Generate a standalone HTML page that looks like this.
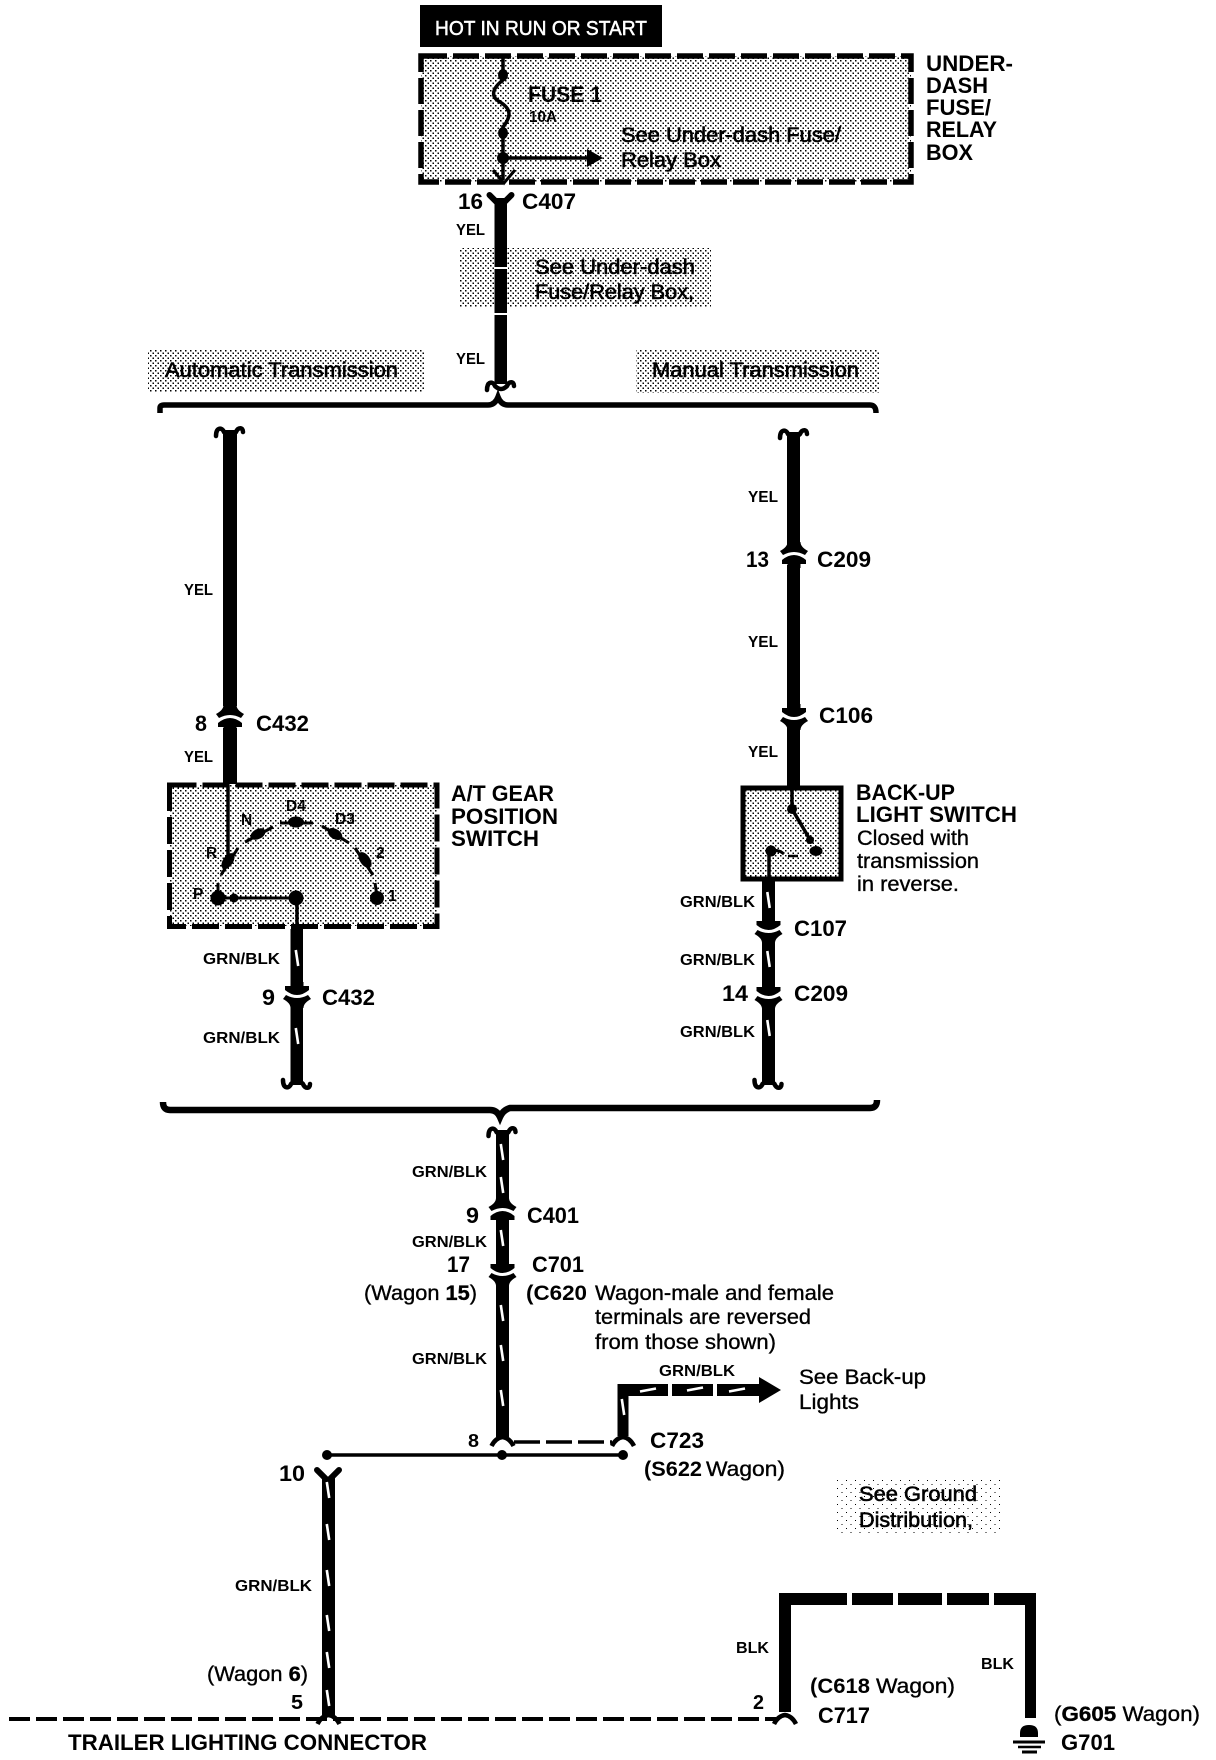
<!DOCTYPE html>
<html>
<head>
<meta charset="utf-8">
<title>Wiring diagram</title>
<style>
html,body{margin:0;padding:0;background:#fff}
svg{display:block}
text{font-family:"Liberation Sans",Arial,sans-serif;fill:#000}
.b{font-weight:bold;font-size:22px}
.s{font-weight:bold;font-size:15.5px}
.r{font-size:21px;stroke:#000;stroke-width:.35}
.n{font-size:21px;stroke:#000;stroke-width:.6}
tspan.k{font-weight:bold}
</style>
</head>
<body>
<svg width="1216" height="1760" viewBox="0 0 1216 1760" xmlns="http://www.w3.org/2000/svg">
<defs>
<pattern id="dot" width="5" height="5" patternUnits="userSpaceOnUse">
<rect width="5" height="5" fill="#fff"/>
<rect x="0" y="0" width="1.5" height="1.5" fill="#000" shape-rendering="crispEdges"/>
<rect x="2.5" y="2.5" width="1.5" height="1.5" fill="#000" shape-rendering="crispEdges"/>
</pattern>
<pattern id="dot2" width="9" height="8" patternUnits="userSpaceOnUse">
<rect width="9" height="8" fill="#fff"/>
<rect x="0" y="0" width="1.2" height="1.2" fill="#000" shape-rendering="crispEdges"/>
<rect x="4.5" y="4" width="1.2" height="1.2" fill="#000" shape-rendering="crispEdges"/>
</pattern>
<g id="slash"><path d="M-1.2 -8 L1.2 8" stroke="#fff" stroke-width="2.6" fill="none"/></g>
<g id="slashH"><path d="M-8 1.5 L8 -1.5" stroke="#fff" stroke-width="2.6" fill="none"/></g>
<g id="arcs">
<path d="M-6.5 -14 Q-6.5 -9 -14 -5 L-11 -1 Q0 -7 11 -1 L14 -5 Q6.5 -9 6.5 -14 Z"/>
<path d="M-12 4 Q0 -6 12 4 L12 8 H6.5 V12 H-6.5 V8 H-12 Z"/>
</g>
<g id="squig" fill="none" stroke="#000" stroke-width="4.5" stroke-linecap="round">
<path d="M-14 6 C-14 -3 -8 -3 -6 2 Q0 8 6 2 C8 -3 13 -3 13 2"/>
</g>
<g id="vee" fill="none" stroke="#000" stroke-width="6" stroke-linecap="round">
<path d="M-11 -8 L0 3 L11 -8"/>
</g>
<g id="flare" fill="none" stroke="#000" stroke-width="4.5">
<path d="M-11 6 Q-7 -2 0 -3 Q7 -2 11 6"/>
</g>
</defs>

<!-- top black label -->
<rect x="420" y="5" width="242" height="42" fill="#000"/>
<text style="stroke:#fff;stroke-width:.5;fill:#fff;font-size:20px" x="435" y="35" textLength="212" lengthAdjust="spacingAndGlyphs">HOT IN RUN OR START</text>

<!-- under-dash box -->
<rect x="421" y="56" width="490" height="126" fill="url(#dot)"/>
<rect x="421" y="56" width="490" height="126" fill="none" stroke="#000" stroke-width="5.5" stroke-dasharray="26 6"/>
<path d="M503 56 V80 C490 90 492 98 500 102 C513 110 510 118 503 127 V180" fill="none" stroke="#000" stroke-width="3.5"/>
<ellipse cx="503" cy="75" rx="5" ry="6"/>
<ellipse cx="503" cy="133" rx="5" ry="6"/>
<ellipse cx="503" cy="158" rx="6" ry="6"/>
<path d="M503 158 H590" stroke="#000" stroke-width="3.5"/>
<path d="M587 149 L603 158 L587 167 Z"/>
<path d="M493 170 L504 183 L515 170" fill="none" stroke="#000" stroke-width="3"/>
<text class="b" x="528" y="102" textLength="74" lengthAdjust="spacingAndGlyphs">FUSE 1</text>
<text class="s" x="529" y="122" textLength="28" lengthAdjust="spacingAndGlyphs">10A</text>
<text class="n" x="621" y="142" textLength="220" lengthAdjust="spacingAndGlyphs">See Under-dash Fuse/</text>
<text class="n" x="621" y="167" textLength="100" lengthAdjust="spacingAndGlyphs">Relay Box</text>
<text class="b" x="926" y="71" textLength="87" lengthAdjust="spacingAndGlyphs">UNDER-</text>
<text class="b" x="926" y="93" textLength="62" lengthAdjust="spacingAndGlyphs">DASH</text>
<text class="b" x="926" y="115" textLength="65" lengthAdjust="spacingAndGlyphs">FUSE/</text>
<text class="b" x="926" y="137" textLength="71" lengthAdjust="spacingAndGlyphs">RELAY</text>
<text class="b" x="926" y="160" textLength="47" lengthAdjust="spacingAndGlyphs">BOX</text>

<!-- shaded notes -->
<rect x="460" y="248" width="251" height="59" fill="url(#dot)"/>
<rect x="148" y="349" width="276" height="43" fill="url(#dot)"/>
<rect x="636" y="349" width="244" height="44" fill="url(#dot)"/>
<rect x="836" y="1480" width="165" height="56" fill="url(#dot2)"/>

<!-- top centre wire -->
<rect x="494.5" y="198" width="12.5" height="186"/>
<use href="#vee" x="500.5" y="203"/>
<rect x="494" y="267" width="14" height="2" fill="#fff"/>
<rect x="494" y="313" width="14" height="2" fill="#fff"/>
<use href="#squig" x="501" y="384"/>
<text class="b" x="458" y="209" textLength="25" lengthAdjust="spacingAndGlyphs">16</text>
<text class="b" x="522" y="209" textLength="54" lengthAdjust="spacingAndGlyphs">C407</text>
<text class="s" x="456" y="235" textLength="29" lengthAdjust="spacingAndGlyphs">YEL</text>
<text class="s" x="456" y="364" textLength="29" lengthAdjust="spacingAndGlyphs">YEL</text>
<text class="n" x="535" y="274" textLength="160" lengthAdjust="spacingAndGlyphs">See Under-dash</text>
<text class="n" x="535" y="299" textLength="159" lengthAdjust="spacingAndGlyphs">Fuse/Relay Box,</text>
<text class="n" x="165" y="377" textLength="233" lengthAdjust="spacingAndGlyphs">Automatic Transmission</text>
<text class="n" x="652" y="377" textLength="207" lengthAdjust="spacingAndGlyphs">Manual Transmission</text>

<!-- top bracket -->
<path d="M160 413 V408 Q160 405 164 405 H488 Q495 405 498 397 Q501 405 508 405 H870 Q876 405 876 413" fill="none" stroke="#000" stroke-width="5.5"/>

<!-- left yellow wire -->
<rect x="223" y="430" width="14" height="276"/>
<use href="#squig" x="230" y="430"/>
<use href="#arcs" x="230" y="719"/>
<rect x="223" y="728" width="14" height="56"/>
<text class="s" x="184" y="595" textLength="29" lengthAdjust="spacingAndGlyphs">YEL</text>
<text class="b" x="195" y="731" textLength="12" lengthAdjust="spacingAndGlyphs">8</text>
<text class="b" x="256" y="731" textLength="53" lengthAdjust="spacingAndGlyphs">C432</text>
<text class="s" x="184" y="762" textLength="29" lengthAdjust="spacingAndGlyphs">YEL</text>

<!-- A/T gear box -->
<rect x="170" y="785" width="267" height="141" fill="url(#dot)"/>
<rect x="169.5" y="785" width="267.5" height="141.5" fill="none" stroke="#000" stroke-width="5" stroke-dasharray="27 6"/>
<path d="M228 785 V857" stroke="#000" stroke-width="3.5"/>
<g stroke="#000" stroke-width="3" fill="none">
<path d="M221 875 L238 848"/>
<path d="M245 842 L273 827"/>
<path d="M280 823 L313 823"/>
<path d="M322 826 L349 843"/>
<path d="M355 848 L373 875"/>
<path d="M375 883 L377 896"/>
<path d="M218 883 V896"/>
<path d="M218 898 H296"/>
<path d="M297 898 V930" stroke-width="3.5"/>
</g>
<ellipse cx="228" cy="861" rx="5" ry="9" transform="rotate(35 228 861)"/>
<ellipse cx="258" cy="834" rx="8" ry="5" transform="rotate(-28 258 834)"/>
<ellipse cx="296" cy="822" rx="8" ry="5.5"/>
<ellipse cx="335" cy="834" rx="8" ry="5" transform="rotate(32 335 834)"/>
<ellipse cx="365" cy="860" rx="5" ry="9" transform="rotate(-35 365 860)"/>
<circle cx="377" cy="898" r="7"/>
<circle cx="218" cy="898" r="7.5"/>
<circle cx="234" cy="898" r="4.5"/>
<circle cx="296" cy="898" r="7.5"/>
<text class="s" x="241" y="825">N</text>
<text class="s" x="286" y="811">D4</text>
<text class="s" x="335" y="824">D3</text>
<text class="s" x="206" y="858">R</text>
<text class="s" x="376" y="858">2</text>
<text class="s" x="193" y="899">P</text>
<text class="s" x="388" y="901">1</text>
<text class="b" x="451" y="801" textLength="103" lengthAdjust="spacingAndGlyphs">A/T GEAR</text>
<text class="b" x="451" y="824" textLength="107" lengthAdjust="spacingAndGlyphs">POSITION</text>
<text class="b" x="451" y="846" textLength="88" lengthAdjust="spacingAndGlyphs">SWITCH</text>

<!-- left green wire -->
<rect x="290.5" y="929" width="12.5" height="60"/>
<g transform="translate(297 994) scale(1 -1)"><use href="#arcs"/></g>
<rect x="290.5" y="1004" width="12.5" height="81"/>
<use href="#slash" x="297" y="958"/>
<use href="#slash" x="297" y="1036"/>
<g transform="translate(297 1086) scale(1 -1)"><use href="#squig"/></g>
<text class="s" x="203" y="964" textLength="77" lengthAdjust="spacingAndGlyphs">GRN/BLK</text>
<text class="b" x="262" y="1005" textLength="13" lengthAdjust="spacingAndGlyphs">9</text>
<text class="b" x="322" y="1005" textLength="53" lengthAdjust="spacingAndGlyphs">C432</text>
<text class="s" x="203" y="1043" textLength="77" lengthAdjust="spacingAndGlyphs">GRN/BLK</text>

<!-- right yellow wire -->
<rect x="787" y="432" width="13" height="116"/>
<use href="#squig" x="794" y="432"/>
<use href="#arcs" x="794" y="556"/>
<rect x="787" y="565" width="13" height="145"/>
<g transform="translate(794 716) scale(1 -1)"><use href="#arcs"/></g>
<rect x="787" y="726" width="13" height="61"/>
<text class="s" x="748" y="502" textLength="30" lengthAdjust="spacingAndGlyphs">YEL</text>
<text class="b" x="746" y="567" textLength="23" lengthAdjust="spacingAndGlyphs">13</text>
<text class="b" x="817" y="567" textLength="54" lengthAdjust="spacingAndGlyphs">C209</text>
<text class="s" x="748" y="647" textLength="30" lengthAdjust="spacingAndGlyphs">YEL</text>
<text class="b" x="819" y="723" textLength="54" lengthAdjust="spacingAndGlyphs">C106</text>
<text class="s" x="748" y="757" textLength="30" lengthAdjust="spacingAndGlyphs">YEL</text>

<!-- back-up switch -->
<rect x="743" y="788" width="98" height="91" fill="url(#dot)"/>
<rect x="743" y="788" width="98" height="91" fill="none" stroke="#000" stroke-width="5"/>
<path d="M792 787 V809 L812 843" fill="none" stroke="#000" stroke-width="3.5"/>
<circle cx="792" cy="809" r="5"/>
<circle cx="810" cy="840" r="4"/>
<ellipse cx="816" cy="851" rx="6.5" ry="5"/>
<path d="M788 856 H798" stroke="#000" stroke-width="2.5"/>
<circle cx="771" cy="851" r="5.5"/>
<path d="M771 851 Q778 849 784 854" fill="none" stroke="#000" stroke-width="3"/>
<path d="M769 851 V882" stroke="#000" stroke-width="3.5"/>
<text class="b" x="856" y="800" textLength="99" lengthAdjust="spacingAndGlyphs">BACK-UP</text>
<text class="b" x="856" y="822" textLength="161" lengthAdjust="spacingAndGlyphs">LIGHT SWITCH</text>
<text class="r" x="857" y="845" textLength="112" lengthAdjust="spacingAndGlyphs">Closed with</text>
<text class="r" x="857" y="868" textLength="122" lengthAdjust="spacingAndGlyphs">transmission</text>
<text class="r" x="857" y="891" textLength="102" lengthAdjust="spacingAndGlyphs">in reverse.</text>

<!-- right green wire -->
<rect x="762" y="881" width="13" height="39"/>
<g transform="translate(768.5 929) scale(1 -1)"><use href="#arcs"/></g>
<rect x="762" y="939" width="13" height="48"/>
<g transform="translate(768.5 995) scale(1 -1)"><use href="#arcs"/></g>
<rect x="762" y="1005" width="13" height="80"/>
<use href="#slash" x="768.5" y="900"/>
<use href="#slash" x="768.5" y="959"/>
<use href="#slash" x="768.5" y="1028"/>
<g transform="translate(768.5 1086) scale(1 -1)"><use href="#squig"/></g>
<text class="s" x="680" y="907" textLength="75" lengthAdjust="spacingAndGlyphs">GRN/BLK</text>
<text class="b" x="794" y="936" textLength="53" lengthAdjust="spacingAndGlyphs">C107</text>
<text class="s" x="680" y="965" textLength="75" lengthAdjust="spacingAndGlyphs">GRN/BLK</text>
<text class="b" x="722" y="1001" textLength="26" lengthAdjust="spacingAndGlyphs">14</text>
<text class="b" x="794" y="1001" textLength="54" lengthAdjust="spacingAndGlyphs">C209</text>
<text class="s" x="680" y="1037" textLength="75" lengthAdjust="spacingAndGlyphs">GRN/BLK</text>

<!-- lower bracket -->
<path d="M163 1102 Q163 1110 170 1110 H490 Q497 1110 500 1117 Q503 1110 510 1108 H870 Q877 1108 877 1100" fill="none" stroke="#000" stroke-width="6.5"/>

<!-- centre lower wire -->
<rect x="496" y="1130" width="13" height="74"/>
<use href="#squig" x="502.5" y="1130"/>
<use href="#arcs" x="502.5" y="1212"/>
<rect x="496" y="1222" width="13" height="44"/>
<g transform="translate(502.5 1272) scale(1 -1)"><use href="#arcs"/></g>
<rect x="496" y="1282" width="13" height="155"/>
<use href="#flare" x="502.5" y="1440"/>
<use href="#slash" x="502" y="1152"/>
<use href="#slash" x="502" y="1185"/>
<use href="#slash" x="502" y="1238"/>
<use href="#slash" x="502" y="1313"/>
<use href="#slash" x="502" y="1353"/>
<use href="#slash" x="502" y="1398"/>
<text class="s" x="412" y="1177" textLength="75" lengthAdjust="spacingAndGlyphs">GRN/BLK</text>
<text class="b" x="466" y="1223" textLength="13" lengthAdjust="spacingAndGlyphs">9</text>
<text class="b" x="527" y="1223" textLength="52" lengthAdjust="spacingAndGlyphs">C401</text>
<text class="s" x="412" y="1247" textLength="75" lengthAdjust="spacingAndGlyphs">GRN/BLK</text>
<text class="b" x="447" y="1272" textLength="23" lengthAdjust="spacingAndGlyphs">17</text>
<text class="b" x="532" y="1272" textLength="52" lengthAdjust="spacingAndGlyphs">C701</text>
<text class="r" x="364" y="1300" textLength="113" lengthAdjust="spacingAndGlyphs">(Wagon <tspan class="k">15</tspan>)</text>
<text class="b" style="font-size:21px" x="526" y="1300" textLength="61" lengthAdjust="spacingAndGlyphs">(C620</text>
<text class="r" x="595" y="1300" textLength="239" lengthAdjust="spacingAndGlyphs">Wagon-male and female</text>
<text class="r" x="595" y="1324" textLength="216" lengthAdjust="spacingAndGlyphs">terminals are reversed</text>
<text class="r" x="595" y="1349" textLength="181" lengthAdjust="spacingAndGlyphs">from those shown)</text>
<text class="s" x="412" y="1364" textLength="75" lengthAdjust="spacingAndGlyphs">GRN/BLK</text>

<!-- branch to back-up lights -->
<text class="s" x="659" y="1376" textLength="76" lengthAdjust="spacingAndGlyphs">GRN/BLK</text>
<path d="M617.5 1384 H759 V1377 L781 1390 L759 1403 V1396 H628.5 V1436 H617.5 Z"/>
<rect x="668" y="1383" width="4" height="14" fill="#fff"/>
<rect x="713" y="1383" width="4" height="14" fill="#fff"/>
<use href="#slashH" x="648" y="1390"/>
<use href="#slashH" x="695" y="1389"/>
<use href="#slashH" x="737" y="1390"/>
<use href="#slash" x="623" y="1407"/>
<use href="#flare" x="623" y="1440"/>
<text class="r" x="799" y="1384" textLength="127" lengthAdjust="spacingAndGlyphs">See Back-up</text>
<text class="r" x="799" y="1409" textLength="60" lengthAdjust="spacingAndGlyphs">Lights</text>

<!-- horizontal splice -->
<path d="M514 1442 H612" stroke="#000" stroke-width="3.5" stroke-dasharray="26 6"/>
<path d="M326 1455 H623" stroke="#000" stroke-width="3.5"/>
<circle cx="327" cy="1455" r="5"/>
<circle cx="502" cy="1455" r="5"/>
<circle cx="623" cy="1455" r="5"/>
<text class="b" style="font-size:18px" x="468" y="1447" textLength="11" lengthAdjust="spacingAndGlyphs">8</text>
<text class="b" x="650" y="1448" textLength="54" lengthAdjust="spacingAndGlyphs">C723</text>
<text class="b" style="font-size:21px" x="644" y="1476" textLength="58" lengthAdjust="spacingAndGlyphs">(S622</text>
<text class="r" x="706" y="1476" textLength="79" lengthAdjust="spacingAndGlyphs">Wagon)</text>
<text class="n" x="859" y="1501" textLength="118" lengthAdjust="spacingAndGlyphs">See Ground</text>
<text class="n" x="859" y="1527" textLength="114" lengthAdjust="spacingAndGlyphs">Distribution,</text>

<!-- trailer wire -->
<use href="#vee" x="328" y="1478"/>
<rect x="322" y="1478" width="13" height="237"/>
<use href="#flare" x="328.5" y="1718"/>
<use href="#slash" x="328" y="1490"/>
<use href="#slash" x="328" y="1532"/>
<use href="#slash" x="328" y="1578"/>
<use href="#slash" x="328" y="1623"/>
<use href="#slash" x="328" y="1660"/>
<use href="#slash" x="328" y="1698"/>
<text class="b" x="279" y="1481" textLength="26" lengthAdjust="spacingAndGlyphs">10</text>
<text class="s" x="235" y="1591" textLength="77" lengthAdjust="spacingAndGlyphs">GRN/BLK</text>
<text class="r" x="207" y="1681" textLength="101" lengthAdjust="spacingAndGlyphs">(Wagon <tspan class="k">6</tspan>)</text>
<text class="b" style="font-size:20px" x="291" y="1709" textLength="12" lengthAdjust="spacingAndGlyphs">5</text>
<path d="M9 1719 H776" stroke="#000" stroke-width="4" stroke-dasharray="21 6"/>
<text class="b" x="68" y="1750" textLength="359" lengthAdjust="spacingAndGlyphs">TRAILER LIGHTING CONNECTOR</text>

<!-- BLK wire -->
<path d="M779 1593 H1036 V1718 H1025 V1605 H791 V1712 H779 Z"/>
<rect x="847" y="1592" width="5" height="14" fill="#fff"/>
<rect x="893" y="1592" width="5" height="14" fill="#fff"/>
<rect x="942" y="1592" width="5" height="14" fill="#fff"/>
<rect x="989" y="1592" width="5" height="14" fill="#fff"/>
<use href="#flare" x="785" y="1718"/>
<text class="s" x="736" y="1653" textLength="33" lengthAdjust="spacingAndGlyphs">BLK</text>
<text class="s" x="981" y="1669" textLength="33" lengthAdjust="spacingAndGlyphs">BLK</text>
<text class="b" style="font-size:21px" x="810" y="1693" textLength="60" lengthAdjust="spacingAndGlyphs">(C618</text>
<text class="r" x="876" y="1693" textLength="79" lengthAdjust="spacingAndGlyphs">Wagon)</text>
<text class="b" style="font-size:20px" x="753" y="1709" textLength="11" lengthAdjust="spacingAndGlyphs">2</text>
<text class="b" x="818" y="1723" textLength="52" lengthAdjust="spacingAndGlyphs">C717</text>
<text class="r" x="1054" y="1721" textLength="146" lengthAdjust="spacingAndGlyphs">(<tspan class="k">G605</tspan> Wagon)</text>
<text class="b" x="1061" y="1750" textLength="54" lengthAdjust="spacingAndGlyphs">G701</text>

<!-- ground -->
<path d="M1020 1737 V1733 Q1020 1725 1029 1725 Q1038 1725 1038 1733 V1737 Z"/>
<path d="M1013 1742 H1045" stroke="#000" stroke-width="3"/>
<path d="M1018 1747 H1041" stroke="#000" stroke-width="2.5"/>
<path d="M1022 1752 H1037" stroke="#000" stroke-width="3"/>
</svg>
</body>
</html>
